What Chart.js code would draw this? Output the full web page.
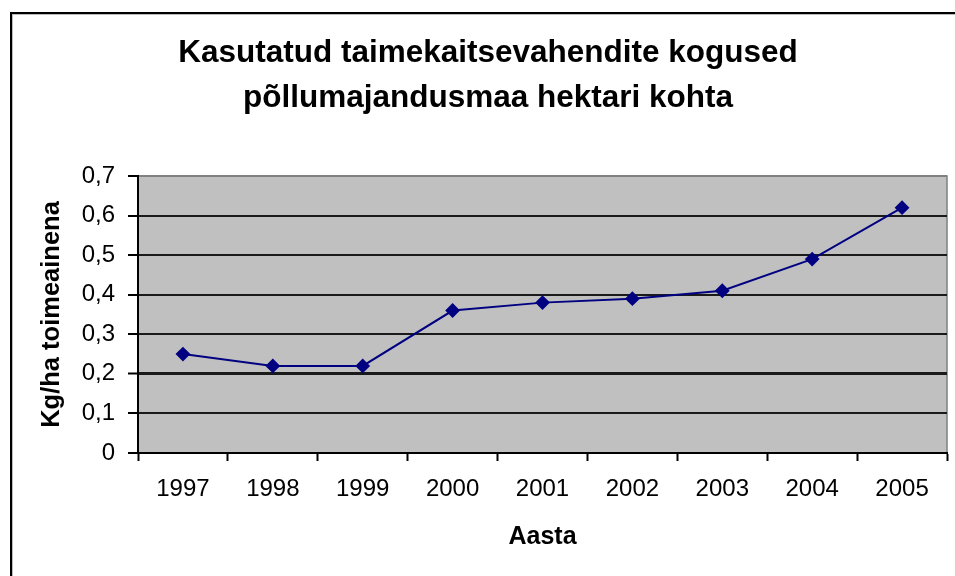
<!DOCTYPE html>
<html>
<head>
<meta charset="utf-8">
<script src="https://cdn.jsdelivr.net/npm/chart.js@4.4.1/dist/chart.umd.min.js"></script>
<style>
  html, body { margin: 0; padding: 0; background: #fff; }
  #wrap { position: relative; width: 955px; height: 576px; overflow: hidden; }
  #frame {
    position: absolute; left: 10px; top: 12px; width: 2000px; height: 2000px;
    border-left: 2px solid #000; border-top: 2px solid #000;
    box-shadow: inset 1px 1px 0 #bbb;
  }
  #chart { position: absolute; left: 0; top: 0; }
</style>
</head>
<body>
<div id="wrap">
  <div id="frame"></div>
  <canvas id="chart" width="955" height="576"></canvas>
</div>
<script>
  // ============================================================
  //  Data
  // ============================================================
  var years = ['1997', '1998', '1999', '2000', '2001', '2002', '2003', '2004', '2005'];
  var kgPerHa = [0.25, 0.22, 0.22, 0.36, 0.38, 0.39, 0.41, 0.49, 0.62];
  var titleLines = ['Kasutatud taimekaitsevahendite kogused', 'põllumajandusmaa hektari kohta'];
  var yTitle = 'Kg/ha toimeainena';
  var xTitle = 'Aasta';

  var FONT = '"Liberation Sans", Arial, sans-serif';

  function fmtComma(v) {
    return v === 0 ? '0' : v.toFixed(1).replace('.', ',');
  }

  // gray plot background + gray top/right edge like the old Excel look
  var plotBg = {
    id: 'plotBg',
    beforeDraw: function (chart) {
      var a = chart.chartArea, ctx = chart.ctx;
      ctx.save();
      ctx.fillStyle = '#c0c0c0';
      ctx.fillRect(a.left, a.top, a.right - a.left, a.bottom - a.top);
      ctx.strokeStyle = '#808080';
      ctx.lineWidth = 1.5;
      ctx.beginPath();
      ctx.moveTo(a.left, a.top);
      ctx.lineTo(a.right, a.top);
      ctx.lineTo(a.right, a.bottom);
      ctx.stroke();
      ctx.restore();
    }
  };

  new Chart(document.getElementById('chart').getContext('2d'), {
    type: 'line',
    data: {
      labels: years,
      datasets: [{
        data: kgPerHa,
        borderColor: '#000080',
        backgroundColor: '#000080',
        borderWidth: 2,
        tension: 0,
        pointStyle: 'rectRot',
        pointRadius: 6,
        pointBackgroundColor: '#000080',
        pointBorderColor: '#000080'
      }]
    },
    options: {
      responsive: false,
      animation: false,
      layout: { padding: { left: 25, top: 12, right: 4, bottom: 10 } },
      plugins: {
        legend: { display: false },
        tooltip: { enabled: false },
        title: {
          display: true,
          text: titleLines,
          color: '#000',
          font: { family: FONT, size: 31.5, weight: 'bold', lineHeight: 1.43 },
          padding: { top: 18.5, bottom: 55.4 }
        }
      },
      scales: {
        x: {
          offset: true,
          grid: {
            offset: true, drawOnChartArea: false, drawTicks: true,
            tickLength: 8, tickColor: '#000', tickWidth: 2
          },
          border: { display: true, color: '#000', width: 2 },
          ticks: { color: '#000', padding: 14, font: { family: FONT, size: 24 } },
          title: {
            display: true, text: xTitle, color: '#000',
            font: { family: FONT, size: 25, weight: 'bold' },
            padding: { top: 4, bottom: 14 }
          },
          afterFit: function (s) { s.height = 576 - 10 - 453; }
        },
        y: {
          min: 0, max: 0.7,
          grid: {
            color: function (c) {
              if (c.tick && Math.abs(c.tick.value - 0.7) < 1e-6) return '#808080';
              return '#1a1a1a';
            },
            lineWidth: function (c) {
              if (c.tick && Math.abs(c.tick.value - 0.2) < 1e-6) return 3;
              return 2;
            },
            tickLength: 10, tickColor: '#000', tickWidth: 2
          },
          border: { display: true, color: '#000', width: 2 },
          ticks: {
            stepSize: 0.1, color: '#000', padding: 13,
            font: { family: FONT, size: 24 },
            callback: function (v) { return fmtComma(v); }
          },
          title: {
            display: true, text: yTitle, color: '#000',
            font: { family: FONT, size: 25.5, weight: 'bold' },
            padding: { top: 12, bottom: 4 }
          },
          afterFit: function (s) { s.width = 138 - 25; }
        }
      }
    },
    plugins: [plotBg]
  });
</script>
</body>
</html>
